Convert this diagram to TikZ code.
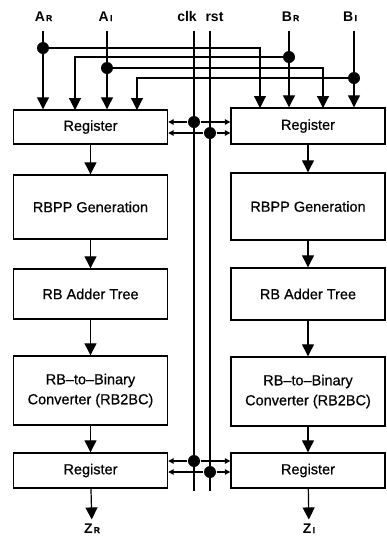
\documentclass[tikz,border=0pt]{standalone}
\usepackage{fontspec}
\setmainfont{Liberation Sans}
\newfontfamily\boxfont{Liberation Sans}[FakeBold=0.6]
\usetikzlibrary{arrows.meta}
\newcommand{\sig}[2]{\textbf{#1}\kern1.2pt{\fontsize{8.5}{8.5}\selectfont\boxfont #2}}
\begin{document}
\begin{tikzpicture}[x=1pt,y=-1pt,line width=1.2pt,
    block/.style={draw,line width=1.4pt,minimum width=154pt,inner sep=0pt,align=center,font=\fontsize{14.5}{20}\selectfont\boxfont},
    dot/.style={circle,fill,inner sep=0pt,minimum size=12pt},
    lbl/.style={anchor=base,font=\fontsize{14}{14}\selectfont\bfseries},
    big/.style={-{Triangle[width=12pt,length=12pt]}},
    small/.style={-{Triangle[width=5.5pt,length=5.5pt]}}]
    \useasboundingbox (0,0) rectangle (387,539);
    \node[block,minimum height=34pt] (reg1) at (90.5,127) {Register};
    \node[block,minimum height=64pt] (gen1) at (90.5,207) {RBPP Generation};
    \node[block,minimum height=50pt] (tree1) at (90.5,294) {RB Adder Tree};
    \node[block,minimum height=69pt] (conv1) at (90.5,390.5) {RB\textendash to\textendash Binary\\Converter (RB2BC)};
    \node[block,minimum height=35pt] (out1) at (90.5,470.5) {Register};
    \node[block,minimum height=36pt] (reg2) at (308,126) {Register};
    \node[block,minimum height=67pt] (gen2) at (308,206.5) {RBPP Generation};
    \node[block,minimum height=52pt] (tree2) at (308,294) {RB Adder Tree};
    \node[block,minimum height=69pt] (conv2) at (308,391.5) {RB\textendash to\textendash Binary\\Converter (RB2BC)};
    \node[block,minimum height=35pt] (out2) at (308,470.5) {Register};
    \node[lbl] (AR) at (43.5,21) {\sig{A}{R}};
    \node[lbl] (AI) at (105.5,21) {\sig{A}{I}};
    \node[lbl] (BR) at (290.5,21) {\sig{B}{R}};
    \node[lbl] (BI) at (350,21) {\sig{B}{I}};
    \node[lbl] (clk) at (187,21) {clk};
    \node[lbl] (rst) at (214.5,21) {rst};
    \node[lbl] (ZR) at (92,533) {\sig{Z}{R}};
    \node[lbl] (ZI) at (309,533) {\sig{Z}{I}};
    \node[dot] (dAR) at (43,48) {};
    \node[dot] (dBR) at (289,57) {};
    \node[dot] (dAI) at (107,68) {};
    \node[dot] (dBI) at (354,78) {};
    \node[dot] (c1) at (194,122) {};
    \node[dot] (r1) at (210,133) {};
    \node[dot] (c2) at (194,461) {};
    \node[dot] (r2) at (210,472) {};
    \coordinate (pBR) at (75,110);
    \coordinate (pBI) at (137,110);
    \coordinate (pAR) at (260,108);
    \coordinate (pAI) at (323,108);
    \coordinate (clkend) at (194,491);
    \coordinate (rstend) at (210,491);
    \draw[big,shorten <=6pt] (dAR |- AR.south) -- (dAR |- reg1.north);
    \draw[big,shorten <=6pt] (dAI |- AI.south) -- (dAI |- reg1.north);
    \draw[big,shorten <=6pt] (dBR |- BR.south) -- (dBR |- reg2.north);
    \draw[big,shorten <=6pt] (dBI |- BI.south) -- (dBI |- reg2.north);
    \draw[big] (dAR.center) -| (pAR);
    \draw[big] (dBR.center) -| (pBR);
    \draw[big] (dAI.center) -| (pAI);
    \draw[big] (dBI.center) -| (pBI);
    \draw[shorten <=6pt] (c1 |- clk.south) -- (clkend);
    \draw[shorten <=6pt] (r1 |- rst.south) -- (rstend);
    \draw[small] (c1) -- (c1 -| reg1.east);
    \draw[small] (c1) -- (c1 -| reg2.west);
    \draw[small] (r1) -- (r1 -| reg1.east);
    \draw[small] (r1) -- (r1 -| reg2.west);
    \draw[small] (c2) -- (c2 -| out1.east);
    \draw[small] (c2) -- (c2 -| out2.west);
    \draw[small] (r2) -- (r2 -| out1.east);
    \draw[small] (r2) -- (r2 -| out2.west);
    \draw[big] (reg1) -- (gen1);
    \draw[big] (gen1) -- (tree1);
    \draw[big] (tree1) -- (conv1);
    \draw[big] (conv1) -- (out1);
    \draw[big] (out1) -- (ZR);
    \draw[big] (reg2) -- (gen2);
    \draw[big] (gen2) -- (tree2);
    \draw[big] (tree2) -- (conv2);
    \draw[big] (conv2) -- (out2);
    \draw[big] (out2) -- (ZI);
\end{tikzpicture}
\end{document}
